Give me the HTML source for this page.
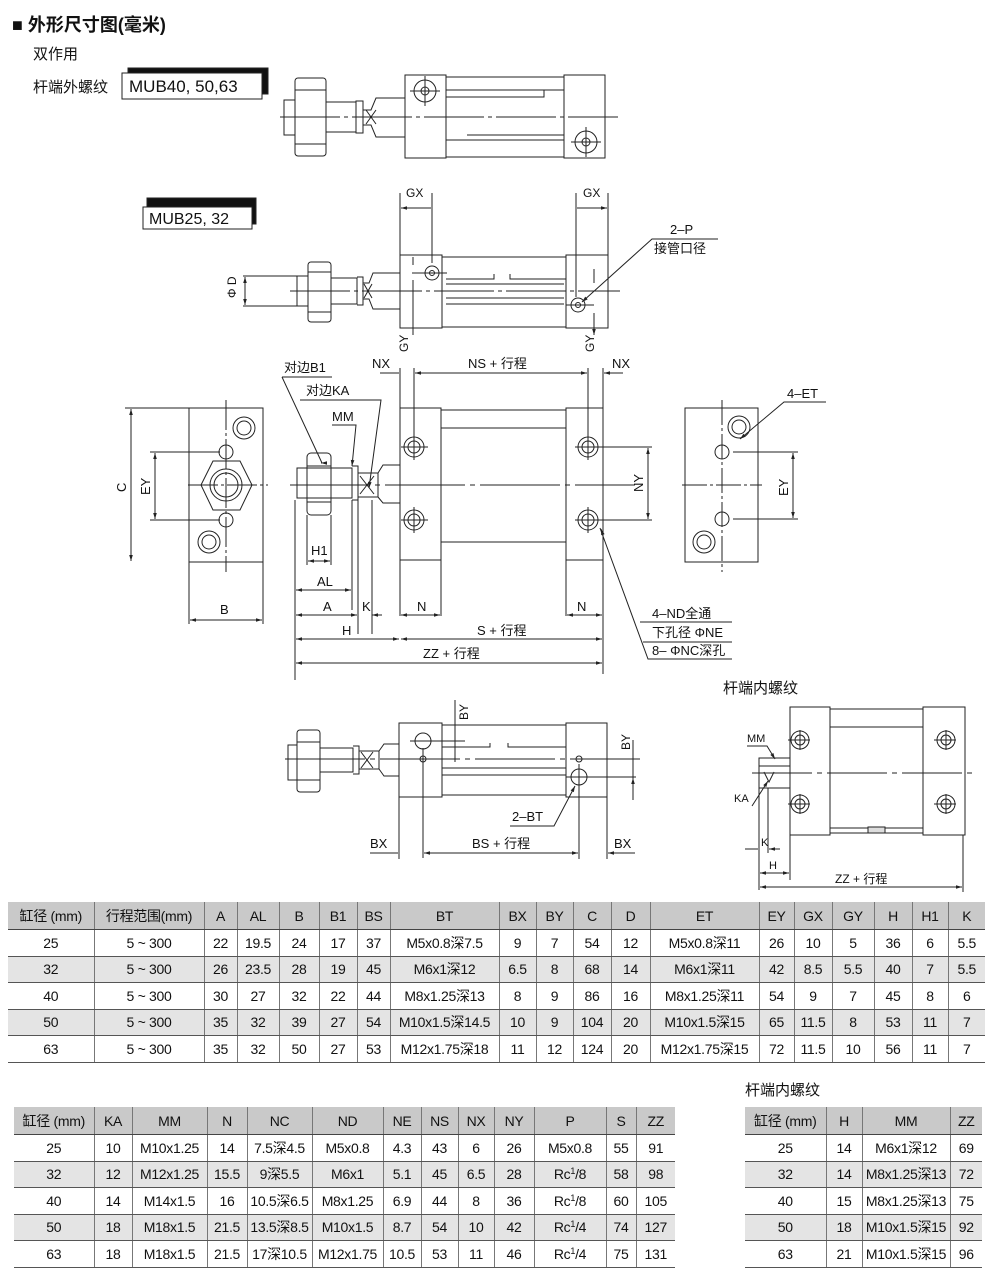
<!DOCTYPE html>
<html><head><meta charset="utf-8"><style>
body{margin:0;background:#fff;width:1000px;height:1284px;position:relative;overflow:hidden;font-family:"Liberation Sans","Noto Sans CJK SC",sans-serif;color:#111}
svg{position:absolute;left:0;top:0}
table{position:absolute;border-collapse:collapse;table-layout:fixed;font-family:"Liberation Sans Narrow","Liberation Sans","Noto Sans CJK SC",sans-serif;font-size:14px;letter-spacing:-0.3px}
td{text-align:center;padding:0;border-left:1px solid #777;border-bottom:1.5px solid #555;white-space:nowrap;overflow:hidden}
td:first-child{border-left:none}
tr.h td{background:#c9c9c9;height:27px;border-bottom:1.5px solid #444}
tr.g td{background:#e4e4e4}
tr td{height:25.5px}
sup{font-size:9px;vertical-align:5px}
.t{position:absolute;white-space:nowrap}
</style></head><body>
<div class="t" style="left:12px;top:11px;font-size:18px;font-weight:bold">■ 外形尺寸图(毫米)</div>
<div class="t" style="left:33px;top:43px;font-size:15px">双作用</div>
<div class="t" style="left:33px;top:76px;font-size:15px">杆端外螺纹</div>
<div class="t" style="left:723px;top:677px;font-size:15px">杆端内螺纹</div>
<div class="t" style="left:745px;top:1079px;font-size:15px">杆端内螺纹</div>
<svg width="1000" height="900" viewBox="0 0 1000 900" font-family="Liberation Sans, Noto Sans CJK SC, sans-serif" font-size="13" stroke="#222" stroke-width="1" fill="none">
<defs><marker id="a" viewBox="0 0 10 10" refX="10" refY="5" markerWidth="7" markerHeight="6" orient="auto-start-reverse"><path d="M0 2L10 5L0 8z" fill="#222" stroke="none"/></marker></defs>
<!-- label boxes -->
<rect x="128" y="68" width="140" height="26" fill="#111"/>
<rect x="122" y="73" width="140" height="26" fill="#fff"/>
<text x="129" y="92" fill="#111" stroke="none" font-size="17">MUB40, 50,63</text>
<rect x="147" y="198" width="109" height="26" fill="#111"/>
<rect x="143" y="207" width="109" height="22" fill="#fff"/>
<text x="149" y="224" fill="#111" stroke="none" font-size="16">MUB25, 32</text>

<!-- TOP drawing MUB40 -->
<g>
<rect x="284" y="100" width="11" height="35"/>
<rect x="295" y="78" width="31" height="78" rx="3"/>
<path d="M295 90h31M295 117h31M295 144h31"/>
<rect x="326" y="102" width="30" height="30"/>
<rect x="356" y="101" width="7" height="32"/>
<path d="M363 110h8l5 -12h29v39h-29l-5-12h-8z"/>
<path d="M366 110l10 14M376 110l-10 14"/>
<rect x="405" y="75" width="41" height="83" fill="#fff"/>
<rect x="446" y="77" width="118" height="80"/>
<path d="M446 90h118M446 97h98v-7M467 135h97M446 140h118"/>
<rect x="564" y="75" width="41" height="83" fill="#fff"/>
<circle cx="425" cy="91" r="11"/><circle cx="425" cy="91" r="4"/>
<circle cx="586" cy="142" r="11"/><circle cx="586" cy="142" r="4"/>
<path d="M410 91h30M425 76v30M571 142h30M586 127v30"/>
<path d="M280 117h338" stroke-dasharray="60 4 4 4"/>
</g>

<!-- MUB25 drawing -->
<g>
<rect x="297" y="276" width="11" height="30"/>
<rect x="308" y="262" width="23" height="60" rx="3"/>
<path d="M308 272h23M308 291h23M308 312h23"/>
<rect x="331" y="278" width="26" height="26"/>
<path d="M357 277h6v28h-6M363 283h6l4-10h27v36h-27l-4-10h-6"/>
<path d="M364 284l8 14M372 284l-8 14"/>
<rect x="400" y="255" width="42" height="73" fill="#fff"/>
<rect x="442" y="257" width="124" height="70"/>
<path d="M446 279h48v-5M510 274v5h56M446 284h118M446 298h118M446 304h118"/>
<rect x="566" y="255" width="42" height="73" fill="#fff"/>
<circle cx="432" cy="273" r="7"/><circle cx="432" cy="273" r="2.5"/>
<circle cx="578" cy="305" r="7"/><circle cx="578" cy="305" r="2.5"/>
<path d="M412 273h35M566 305h28"/>
<path d="M290 291h330" stroke-dasharray="60 4 4 4"/>
<path d="M243 276h55M243 306h55"/>
<path d="M245 277v28" marker-start="url(#a)" marker-end="url(#a)"/>
<text x="0" y="0" transform="translate(236 298) rotate(-90)" fill="#111" stroke="none" font-size="12">Φ D</text>
<path d="M400 193v62M432 193v70M576 193v104M608 193v62"/>
<path d="M401 208h30M577 208h30" marker-start="url(#a)" marker-end="url(#a)"/>
<text x="406" y="197" fill="#111" stroke="none" font-size="12">GX</text>
<text x="583" y="197" fill="#111" stroke="none" font-size="12">GX</text>
<path d="M413 265v-8M413 280v55M594 283v-14M594 313v22" marker-end="url(#a)"/>
<text transform="translate(408 352) rotate(-90)" fill="#111" stroke="none" font-size="12">GY</text>
<text transform="translate(594 352) rotate(-90)" fill="#111" stroke="none" font-size="12">GY</text>
<text x="670" y="234" fill="#111" stroke="none" font-size="13">2–P</text>
<text x="654" y="253" fill="#111" stroke="none" font-size="13">接管口径</text>
<path d="M718 239h-66l-70 63" marker-end="url(#a)"/>
</g>

<!-- Left end view -->
<g>
<rect x="189" y="408" width="74" height="154"/>
<path d="M201 485l12-24h27l12 24l-12 25h-27z"/>
<circle cx="226" cy="485" r="16"/><circle cx="226" cy="485" r="12"/>
<circle cx="226" cy="452" r="7"/><circle cx="226" cy="520" r="7"/>
<circle cx="244" cy="428" r="11"/><circle cx="244" cy="428" r="7"/>
<circle cx="209" cy="542" r="11"/><circle cx="209" cy="542" r="7"/>
<path d="M226 400v172M188 485h80" stroke-dasharray="30 3 3 3"/>
<path d="M125 408h64M150 452h70M150 520h70"/>
<path d="M131 409v152" marker-start="url(#a)" marker-end="url(#a)"/>
<path d="M155 453v66" marker-start="url(#a)" marker-end="url(#a)"/>
<text transform="translate(126 492) rotate(-90)" fill="#111" stroke="none">C</text>
<text transform="translate(150 495) rotate(-90)" fill="#111" stroke="none">EY</text>
<path d="M189 562v62M263 562v62"/>
<path d="M190 620h72" marker-start="url(#a)" marker-end="url(#a)"/>
<text x="220" y="614" fill="#111" stroke="none">B</text>
</g>

<!-- Main side view -->
<g>
<rect x="297" y="468" width="55" height="30"/>
<rect x="307" y="453" width="24" height="62" rx="4"/>
<path d="M307 466h24M307 485h24M307 502h24"/>
<path d="M352 466h6v34h-6M358 473h20v24h-20M378 473l5-8h17v38h-17l-5-6"/>
<path d="M360 476l14 18M374 476l-14 18"/>
<rect x="400" y="408" width="41" height="152" fill="#fff"/>
<rect x="441" y="410" width="125" height="132"/>
<path d="M441 428h125M441 542h125"/>
<rect x="566" y="408" width="37" height="152" fill="#fff"/>
<g>
<circle cx="414" cy="447" r="10"/><circle cx="414" cy="447" r="6"/>
<circle cx="414" cy="520" r="10"/><circle cx="414" cy="520" r="6"/>
<circle cx="588" cy="447" r="10"/><circle cx="588" cy="447" r="6"/>
<circle cx="588" cy="520" r="10"/><circle cx="588" cy="520" r="6"/>
<path d="M401 447h27M414 434v26M401 520h27M414 507v26M575 447h27M588 434v26M575 520h27M588 507v26"/>
</g>
<path d="M290 485h345" stroke-dasharray="80 5 5 5"/>
<path d="M400 368v248M414 368v66M588 368v66M603 368v306M566 560v56M441 560v56"/>
<path d="M380 373h19M623 373h-19" marker-end="url(#a)"/>
<path d="M415 373h172" marker-start="url(#a)" marker-end="url(#a)"/>
<text x="372" y="368" fill="#111" stroke="none">NX</text>
<text x="612" y="368" fill="#111" stroke="none">NX</text>
<text x="468" y="368" fill="#111" stroke="none">NS + 行程</text>
<path d="M600 447h52M600 520h52"/>
<path d="M648 448v71" marker-start="url(#a)" marker-end="url(#a)"/>
<text transform="translate(643 492) rotate(-90)" fill="#111" stroke="none">NY</text>
<text x="284" y="372" fill="#111" stroke="none">对边B1</text>
<path d="M282 377h50M282 377l40 86" />
<path d="M322 463l-1 0" marker-end="url(#a)"/>
<text x="306" y="395" fill="#111" stroke="none">对边KA</text>
<path d="M300 400h81l-12 88" marker-end="url(#a)"/>
<text x="332" y="421" fill="#111" stroke="none">MM</text>
<path d="M332 425h24l-4 41" marker-end="url(#a)"/>
<path d="M295 500v180M307 515v50M331 515v50M352 500v110M358 500v134M372 500v134"/>
<path d="M308 561h22" marker-start="url(#a)" marker-end="url(#a)"/>
<text x="311" y="555" fill="#111" stroke="none">H1</text>
<path d="M296 590h55" marker-start="url(#a)" marker-end="url(#a)"/>
<text x="317" y="586" fill="#111" stroke="none">AL</text>
<path d="M296 615h61" marker-start="url(#a)" marker-end="url(#a)"/>
<text x="323" y="611" fill="#111" stroke="none">A</text>
<path d="M382 615h-10" marker-end="url(#a)"/>
<path d="M358 615h0"/>
<text x="362" y="611" fill="#111" stroke="none">K</text>
<path d="M401 615h39" marker-start="url(#a)" marker-end="url(#a)"/>
<text x="417" y="611" fill="#111" stroke="none">N</text>
<path d="M567 615h35" marker-start="url(#a)" marker-end="url(#a)"/>
<text x="577" y="611" fill="#111" stroke="none">N</text>
<path d="M296 639h103" marker-start="url(#a)" marker-end="url(#a)"/>
<text x="342" y="635" fill="#111" stroke="none">H</text>
<path d="M401 639h201" marker-start="url(#a)" marker-end="url(#a)"/>
<text x="477" y="635" fill="#111" stroke="none">S + 行程</text>
<path d="M296 663h306" marker-start="url(#a)" marker-end="url(#a)"/>
<text x="423" y="658" fill="#111" stroke="none">ZZ + 行程</text>
<path d="M600 528l48 131h84M640 622h92M643 642h89" />
<path d="M602 532l-1-3" marker-end="url(#a)"/>
<text x="652" y="618" fill="#111" stroke="none">4–ND全通</text>
<text x="652" y="637" fill="#111" stroke="none">下孔径 ΦNE</text>
<text x="652" y="655" fill="#111" stroke="none">8– ΦNC深孔</text>
</g>

<!-- Right end view -->
<g>
<rect x="685" y="408" width="73" height="154"/>
<circle cx="739" cy="427" r="11"/><circle cx="739" cy="427" r="7"/>
<circle cx="704" cy="542" r="11"/><circle cx="704" cy="542" r="7"/>
<circle cx="722" cy="452" r="7"/><circle cx="722" cy="519" r="7"/>
<path d="M722 400v172M682 485h80" stroke-dasharray="25 3 3 3"/>
<path d="M733 452h65M733 519h65"/>
<path d="M793 453v65" marker-start="url(#a)" marker-end="url(#a)"/>
<text transform="translate(788 496) rotate(-90)" fill="#111" stroke="none">EY</text>
<text x="787" y="398" fill="#111" stroke="none">4–ET</text>
<path d="M826 402h-42l-44 37" marker-end="url(#a)"/>
</g>

<!-- Bottom-left drawing -->
<g>
<rect x="288" y="745" width="9" height="35"/>
<rect x="297" y="730" width="23" height="62" rx="3"/>
<path d="M297 742h23M297 759h23M297 780h23"/>
<rect x="320" y="748" width="33" height="24"/>
<path d="M353 746h6v28h-6M359 751h20v18h-20M379 751l5-7h15v32h-15l-5-7"/>
<path d="M361 752l12 16M373 752l-12 16"/>
<rect x="399" y="723" width="43" height="74" fill="#fff"/>
<rect x="442" y="725" width="124" height="70"/>
<path d="M442 747h48v-4M508 743v4h58M442 768h124M442 775h124"/>
<rect x="566" y="723" width="41" height="74" fill="#fff"/>
<circle cx="423" cy="741" r="8"/><circle cx="423" cy="759" r="3"/>
<circle cx="579" cy="777" r="8"/><circle cx="579" cy="759" r="3"/>
<path d="M410 741h55M579 764v95M423 748v110M566 777h70"/>
<path d="M285 759h355" stroke-dasharray="80 5 5 5"/>
<path d="M455 700v62M446 741h-10M633 740v60"/>
<path d="M455 745v-3M455 752v5" />
<text transform="translate(468 720) rotate(-90)" fill="#111" stroke="none" font-size="12">BY</text>
<text transform="translate(630 750) rotate(-90)" fill="#111" stroke="none" font-size="12">BY</text>
<path d="M633 745v12M633 792v-14" marker-end="url(#a)"/>
<path d="M399 797v62M607 797v62"/>
<path d="M370 853h28M635 853h-27" marker-end="url(#a)"/>
<path d="M424 853h154" marker-start="url(#a)" marker-end="url(#a)"/>
<text x="370" y="848" fill="#111" stroke="none">BX</text>
<text x="472" y="848" fill="#111" stroke="none">BS + 行程</text>
<text x="614" y="848" fill="#111" stroke="none">BX</text>
<text x="512" y="821" fill="#111" stroke="none">2–BT</text>
<path d="M510 826h44l21-40" marker-end="url(#a)"/>
</g>

<!-- inner thread drawing -->
<g>
<rect x="759" y="758" width="31" height="30"/>
<path d="M759 766h31M764 772l5 10l5-10"/>
<rect x="790" y="707" width="40" height="128" fill="#fff"/>
<rect x="830" y="709" width="93" height="124"/>
<path d="M830 727h93M830 828h93"/>
<rect x="868" y="827" width="17" height="6" fill="#ddd"/>
<rect x="923" y="707" width="42" height="128" fill="#fff"/>
<circle cx="800" cy="740" r="9"/><circle cx="800" cy="740" r="5"/>
<circle cx="800" cy="804" r="9"/><circle cx="800" cy="804" r="5"/>
<circle cx="946" cy="740" r="9"/><circle cx="946" cy="740" r="5"/>
<circle cx="946" cy="804" r="9"/><circle cx="946" cy="804" r="5"/>
<path d="M788 740h22M800 730v20M788 804h22M800 794v20M934 740h22M946 730v20M934 804h22M946 794v20"/>
<path d="M752 773h225" stroke-dasharray="60 5 5 5"/>
<text x="747" y="742" fill="#111" stroke="none" font-size="11">MM</text>
<path d="M747 746h20l8 13" marker-end="url(#a)"/>
<text x="734" y="802" fill="#111" stroke="none" font-size="11">KA</text>
<path d="M752 806l16-25" marker-end="url(#a)"/>
<path d="M759 788v102M768 788v65M963 835v57M790 835v45"/>
<path d="M745 849h13M780 849h-11" marker-end="url(#a)"/>
<text x="761" y="846" fill="#111" stroke="none" font-size="11">K</text>
<path d="M760 873h29" marker-start="url(#a)" marker-end="url(#a)"/>
<text x="769" y="869" fill="#111" stroke="none" font-size="11">H</text>
<path d="M760 887h202" marker-start="url(#a)" marker-end="url(#a)"/>
<text x="835" y="883" fill="#111" stroke="none" font-size="12">ZZ + 行程</text>
</g>
</svg>

<table style="left:8px;top:902px;width:977px">
<colgroup><col style="width:86px"><col style="width:110px"><col style="width:33px"><col style="width:42px"><col style="width:40px"><col style="width:38px"><col style="width:33px"><col style="width:109px"><col style="width:37px"><col style="width:37px"><col style="width:38px"><col style="width:39px"><col style="width:109px"><col style="width:35px"><col style="width:38px"><col style="width:42px"><col style="width:38px"><col style="width:36px"><col style="width:37px"></colgroup>
<tr class="h"><td>缸径 (mm)</td><td>行程范围(mm)</td><td>A</td><td>AL</td><td>B</td><td>B1</td><td>BS</td><td>BT</td><td>BX</td><td>BY</td><td>C</td><td>D</td><td>ET</td><td>EY</td><td>GX</td><td>GY</td><td>H</td><td>H1</td><td>K</td></tr>
<tr><td>25</td><td>5 ~ 300</td><td>22</td><td>19.5</td><td>24</td><td>17</td><td>37</td><td>M5x0.8深7.5</td><td>9</td><td>7</td><td>54</td><td>12</td><td>M5x0.8深11</td><td>26</td><td>10</td><td>5</td><td>36</td><td>6</td><td>5.5</td></tr>
<tr class="g"><td>32</td><td>5 ~ 300</td><td>26</td><td>23.5</td><td>28</td><td>19</td><td>45</td><td>M6x1深12</td><td>6.5</td><td>8</td><td>68</td><td>14</td><td>M6x1深11</td><td>42</td><td>8.5</td><td>5.5</td><td>40</td><td>7</td><td>5.5</td></tr>
<tr><td>40</td><td>5 ~ 300</td><td>30</td><td>27</td><td>32</td><td>22</td><td>44</td><td>M8x1.25深13</td><td>8</td><td>9</td><td>86</td><td>16</td><td>M8x1.25深11</td><td>54</td><td>9</td><td>7</td><td>45</td><td>8</td><td>6</td></tr>
<tr class="g"><td>50</td><td>5 ~ 300</td><td>35</td><td>32</td><td>39</td><td>27</td><td>54</td><td>M10x1.5深14.5</td><td>10</td><td>9</td><td>104</td><td>20</td><td>M10x1.5深15</td><td>65</td><td>11.5</td><td>8</td><td>53</td><td>11</td><td>7</td></tr>
<tr><td>63</td><td>5 ~ 300</td><td>35</td><td>32</td><td>50</td><td>27</td><td>53</td><td>M12x1.75深18</td><td>11</td><td>12</td><td>124</td><td>20</td><td>M12x1.75深15</td><td>72</td><td>11.5</td><td>10</td><td>56</td><td>11</td><td>7</td></tr>
</table>

<table style="left:14px;top:1107px;width:661px">
<colgroup><col style="width:80px"><col style="width:38px"><col style="width:75px"><col style="width:40px"><col style="width:65px"><col style="width:71px"><col style="width:38px"><col style="width:37px"><col style="width:36px"><col style="width:40px"><col style="width:72px"><col style="width:30px"><col style="width:39px"></colgroup>
<tr class="h"><td>缸径 (mm)</td><td>KA</td><td>MM</td><td>N</td><td>NC</td><td>ND</td><td>NE</td><td>NS</td><td>NX</td><td>NY</td><td>P</td><td>S</td><td>ZZ</td></tr>
<tr><td>25</td><td>10</td><td>M10x1.25</td><td>14</td><td>7.5深4.5</td><td>M5x0.8</td><td>4.3</td><td>43</td><td>6</td><td>26</td><td>M5x0.8</td><td>55</td><td>91</td></tr>
<tr class="g"><td>32</td><td>12</td><td>M12x1.25</td><td>15.5</td><td>9深5.5</td><td>M6x1</td><td>5.1</td><td>45</td><td>6.5</td><td>28</td><td>Rc<sup>1</sup>/8</td><td>58</td><td>98</td></tr>
<tr><td>40</td><td>14</td><td>M14x1.5</td><td>16</td><td>10.5深6.5</td><td>M8x1.25</td><td>6.9</td><td>44</td><td>8</td><td>36</td><td>Rc<sup>1</sup>/8</td><td>60</td><td>105</td></tr>
<tr class="g"><td>50</td><td>18</td><td>M18x1.5</td><td>21.5</td><td>13.5深8.5</td><td>M10x1.5</td><td>8.7</td><td>54</td><td>10</td><td>42</td><td>Rc<sup>1</sup>/4</td><td>74</td><td>127</td></tr>
<tr><td>63</td><td>18</td><td>M18x1.5</td><td>21.5</td><td>17深10.5</td><td>M12x1.75</td><td>10.5</td><td>53</td><td>11</td><td>46</td><td>Rc<sup>1</sup>/4</td><td>75</td><td>131</td></tr>
</table>

<table style="left:745px;top:1107px;width:237px">
<colgroup><col style="width:81px"><col style="width:36px"><col style="width:88px"><col style="width:32px"></colgroup>
<tr class="h"><td>缸径 (mm)</td><td>H</td><td>MM</td><td>ZZ</td></tr>
<tr><td>25</td><td>14</td><td>M6x1深12</td><td>69</td></tr>
<tr class="g"><td>32</td><td>14</td><td>M8x1.25深13</td><td>72</td></tr>
<tr><td>40</td><td>15</td><td>M8x1.25深13</td><td>75</td></tr>
<tr class="g"><td>50</td><td>18</td><td>M10x1.5深15</td><td>92</td></tr>
<tr><td>63</td><td>21</td><td>M10x1.5深15</td><td>96</td></tr>
</table>
</body></html>
